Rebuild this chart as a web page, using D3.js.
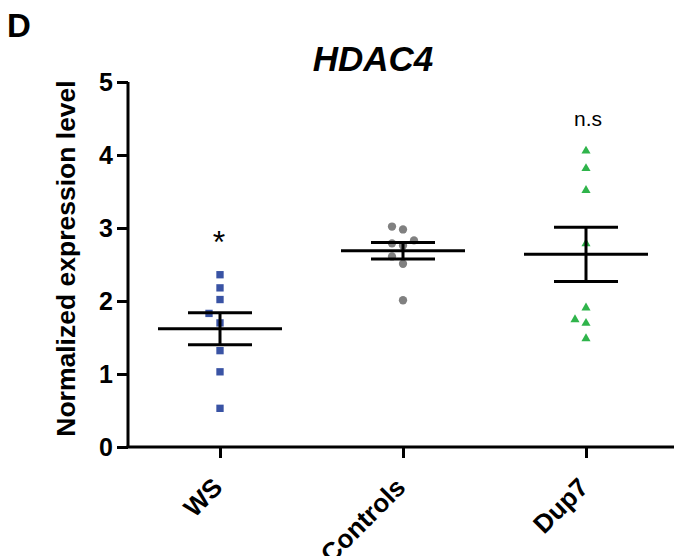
<!DOCTYPE html>
<html>
<head>
<meta charset="utf-8">
<script src="https://cdn.jsdelivr.net/npm/d3@7"></script>
<style>
  body { margin: 0; background: #fff; }
  svg text { font-family: "Liberation Sans", Arial, sans-serif; }
</style>
</head>
<body>
<div id="canvas"></div>
<script>
// DATA
const groups = ["WS", "Controls", "Dup7"];
const wsValues = [2.36, 2.18, 2.02, 1.83, 1.70, 1.32, 1.03, 0.53];
const controlValues = [3.02, 2.98, 2.83, 2.79, 2.76, 2.61, 2.51, 2.01];
const dup7Values = [4.07, 3.83, 3.53, 2.80, 1.92, 1.76, 1.71, 1.50];
const yTicks = [0, 1, 2, 3, 4, 5];
const significance = ["*", "", "n.s"];

const seriesValues = [wsValues, controlValues, dup7Values];
const colors = ["#3953a4", "#808080", "#2fb44b"];
const shapes = [d3.symbolSquare, d3.symbolCircle, d3.symbolTriangle];

// DIMENSIONS
const width = 674;
const height = 556;
const axisLeft = 128, axisRight = 674, axisTop = 82, axisBottom = 447;

const svg = d3.select("#canvas").append("svg")
  .attr("width", width)
  .attr("height", height);

// SCALES
const x = d3.scalePoint().domain(groups).range([220, 586]);
const y = d3.scaleLinear().domain([0, 5]).range([axisBottom, axisTop]);

// AXES
const yAxis = svg.append("g")
  .attr("transform", `translate(${axisLeft},0)`)
  .call(d3.axisLeft(y).tickValues(yTicks).tickSize(11).tickPadding(4).tickFormat(d3.format("d")));
yAxis.select(".domain").attr("d", `M-0,${axisTop}V${axisBottom}`);

const xAxis = svg.append("g")
  .attr("transform", `translate(0,${axisBottom})`)
  .call(d3.axisBottom(x).tickSize(11).tickFormat(""));
xAxis.select(".domain").attr("d", `M${axisLeft - 1.5},0H${axisRight}`);

svg.selectAll(".domain, .tick line")
  .attr("stroke", "#000")
  .attr("stroke-width", 3)
  .attr("stroke-linecap", "butt");

yAxis.selectAll(".tick text")
  .attr("fill", "#000")
  .attr("dy", "0.35em")
  .style("font-size", "25px")
  .style("font-weight", "bold");

// category labels, rotated
svg.append("g").selectAll("text")
  .data(groups)
  .join("text")
  .attr("transform", d => `translate(${x(d) + 4},${axisBottom + 42}) rotate(-45)`)
  .attr("text-anchor", "end")
  .style("font-size", "26px")
  .style("font-weight", "bold")
  .text(d => d);

// axis label
svg.append("text")
  .attr("transform", `translate(75,${(axisTop + axisBottom) / 2 - 6}) rotate(-90)`)
  .attr("text-anchor", "middle")
  .style("font-size", "26.5px")
  .style("font-weight", "bold")
  .text("Normalized expression level");

// TITLE
svg.append("text")
  .attr("x", 373)
  .attr("y", 71)
  .attr("text-anchor", "middle")
  .style("font-size", "35px")
  .style("font-weight", "bold")
  .style("font-style", "italic")
  .text("HDAC4");

svg.append("text")
  .attr("x", 7)
  .attr("y", 37)
  .style("font-size", "33px")
  .style("font-weight", "bold")
  .text("D");

// dodge points that would overlap in the same column
function dodge(values) {
  const minGap = 10, step = 11;
  const placed = [];
  const sorted = values.slice().sort(d3.ascending);
  sorted.forEach(v => {
    const py = y(v);
    for (const col of [0, -1, 1, -2, 2]) {
      const clash = placed.some(p => p.col === col && Math.abs(p.py - py) < minGap);
      if (!clash) { placed.push({ v, py, col, dx: col * step }); break; }
    }
  });
  return placed;
}

// POINTS
groups.forEach((g, i) => {
  const vals = seriesValues[i];
  const cx = x(g);
  const shapeSize = i === 2 ? 36 : 54;

  svg.append("g").selectAll("path")
    .data(dodge(vals))
    .join("path")
    .attr("transform", d => `translate(${cx + d.dx},${d.py + (i === 2 ? 1 : 0)})`)
    .attr("d", d3.symbol().type(shapes[i]).size(shapeSize))
    .attr("fill", colors[i]);

  // mean and SEM
  const mean = d3.mean(vals);
  const sem = d3.deviation(vals) / Math.sqrt(vals.length);
  const bars = svg.append("g")
    .attr("stroke", "#000")
    .attr("stroke-width", 3);

  bars.append("line")
    .attr("x1", cx - 62).attr("x2", cx + 62)
    .attr("y1", y(mean)).attr("y2", y(mean));
  bars.append("line")
    .attr("x1", cx).attr("x2", cx)
    .attr("y1", y(mean + sem)).attr("y2", y(mean - sem));
  [mean + sem, mean - sem].forEach(v => {
    bars.append("line")
      .attr("x1", cx - 32).attr("x2", cx + 32)
      .attr("y1", y(v)).attr("y2", y(v));
  });

  // significance marks
  if (significance[i] === "*") {
    svg.append("text")
      .attr("x", cx - 1)
      .attr("y", y(d3.max(vals)) - 22)
      .attr("text-anchor", "middle")
      .style("font-size", "32px")
      .text("*");
  } else if (significance[i]) {
    svg.append("text")
      .attr("x", cx + 2)
      .attr("y", y(d3.max(vals)) - 24)
      .attr("text-anchor", "middle")
      .style("font-size", "21px")
      .text(significance[i]);
  }
});
</script>
</body>
</html>
